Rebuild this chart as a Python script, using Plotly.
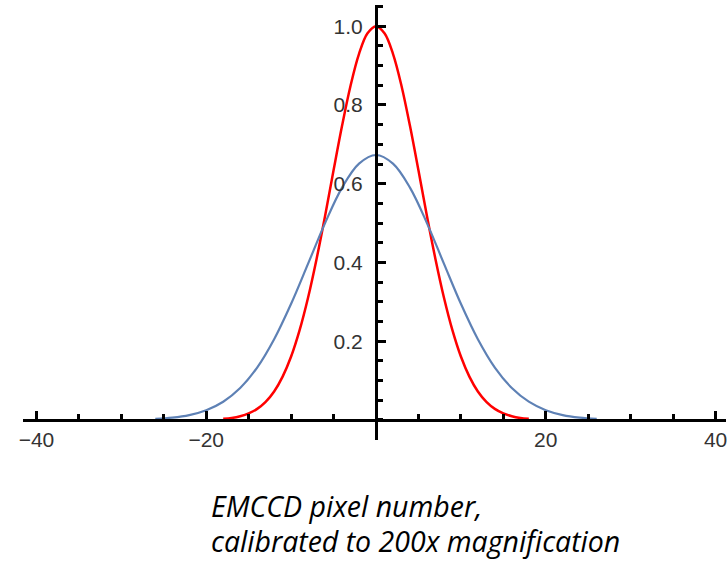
import plotly.graph_objects as go

# Red curve (narrow profile)
red_x = [-18, -17, -16, -15, -14, -13, -12, -11, -10, -9, -8, -7, -6, -5, -4, -3, -2, -1,
         0, 1, 2, 3, 4, 5, 6, 7, 8, 9, 10, 11, 12, 13, 14, 15, 16, 17, 18]
red_y = [0.0027, 0.0051, 0.0094, 0.0165, 0.0280, 0.0458, 0.0722, 0.110, 0.161, 0.228,
         0.311, 0.409, 0.518, 0.634, 0.747, 0.849, 0.930, 0.982,
         1.000,
         0.982, 0.930, 0.849, 0.747, 0.634, 0.518, 0.409, 0.311, 0.228, 0.161, 0.110,
         0.0722, 0.0458, 0.0280, 0.0165, 0.0094, 0.0051, 0.0027]

# Blue curve (broad profile)
blue_x = [-26, -24, -22, -20, -18, -16, -14, -12, -10, -8, -6, -4, -2,
          0, 2, 4, 6, 8, 10, 12, 14, 16, 18, 20, 22, 24, 26]
blue_y = [0.0025, 0.0058, 0.0123, 0.0247, 0.0463, 0.0811, 0.133, 0.205, 0.295, 0.397,
          0.500, 0.590, 0.651,
          0.673,
          0.651, 0.590, 0.500, 0.397, 0.295, 0.205, 0.133, 0.0811, 0.0463, 0.0247,
          0.0123, 0.0058, 0.0025]

x_tickvals = [-40, -20, 20, 40]
x_ticktext = ["\u221240", "\u221220", "20", "40"]
y_tickvals = [0.2, 0.4, 0.6, 0.8, 1.0]
y_ticktext = ["0.2", "0.4", "0.6", "0.8", "1.0"]

x_label_lines = ["EMCCD pixel number,", "calibrated to 200x magnification"]

W, H = 727, 568
x_range = [-41.6, 41.23]
y_range = [-0.051, 1.054]
x_dom = [19 / W, 1.0]
y_dom = [1 - 440 / H, 1 - 5 / H]

# positions of the crossing axes (origin) in paper coordinates
ypos = y_dom[0] + (0 - y_range[0]) / (y_range[1] - y_range[0]) * (y_dom[1] - y_dom[0])
xpos = x_dom[0] + (0 - x_range[0]) / (x_range[1] - x_range[0]) * (x_dom[1] - x_dom[0])

fig = go.Figure()
fig.add_trace(go.Scatter(x=red_x, y=red_y, mode="lines", line_shape="spline",
                         line=dict(color="#FF0000", width=2.5), hoverinfo="skip"))
fig.add_trace(go.Scatter(x=blue_x, y=blue_y, mode="lines", line_shape="spline",
                         line=dict(color="#5E81B5", width=2.2), hoverinfo="skip"))

tickfont = dict(family="Liberation Sans, Arial, sans-serif", size=21, color="#333333")

fig.update_layout(
    width=W, height=H,
    margin=dict(l=0, r=0, t=0, b=0),
    paper_bgcolor="white", plot_bgcolor="white",
    showlegend=False,
    xaxis=dict(
        domain=x_dom, range=x_range, anchor="free", position=ypos,
        showline=True, linecolor="black", linewidth=3,
        showgrid=False, zeroline=False,
        tickmode="array", tickvals=x_tickvals, ticktext=x_ticktext,
        ticks="inside", ticklen=8, tickwidth=2.5, tickcolor="black",
        tickfont=tickfont, ticklabeloverflow="allow", ticklabelstandoff=0,
        minor=dict(ticks="inside", dtick=5, tick0=0, ticklen=5, tickwidth=2.5,
                   tickcolor="black", showgrid=False),
        fixedrange=True,
    ),
    yaxis=dict(
        domain=y_dom, range=y_range, anchor="free", position=xpos,
        showline=True, linecolor="black", linewidth=3,
        showgrid=False, zeroline=False,
        tickmode="array", tickvals=y_tickvals, ticktext=y_ticktext,
        ticks="inside", ticklen=8, tickwidth=2.5, tickcolor="black",
        tickfont=tickfont, ticklabelstandoff=8, ticklabeloverflow="allow",
        minor=dict(ticks="inside", dtick=0.05, tick0=0, ticklen=5, tickwidth=2.5,
                   tickcolor="black", showgrid=False),
        fixedrange=True,
    ),
    annotations=[
        dict(text="<i>" + x_label_lines[0] + "</i>",
             xref="paper", yref="paper",
             x=206 / W, y=1 - 506 / H, xanchor="left", yanchor="middle",
             align="left", showarrow=False,
             font=dict(family="Open Sans, sans-serif", size=28.5, color="black")),
        dict(text="<i>" + x_label_lines[1] + "</i>",
             xref="paper", yref="paper",
             x=206 / W, y=1 - 541 / H, xanchor="left", yanchor="middle",
             align="left", showarrow=False,
             font=dict(family="Open Sans, sans-serif", size=28.5, color="black")),
    ],
)

fig.write_html("out.html")
